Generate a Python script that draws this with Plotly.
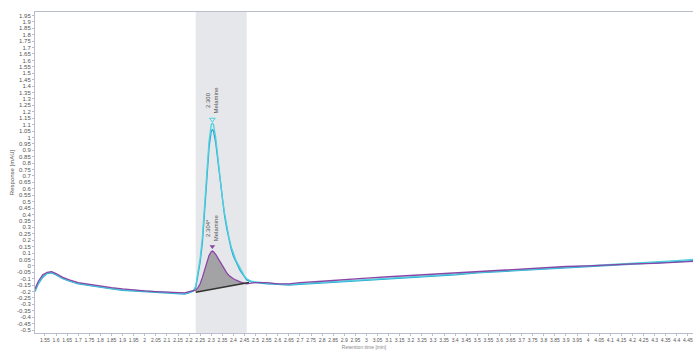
import plotly.graph_objects as go

# ---------------- data ----------------
x_base_left = [1.505, 1.52, 1.54, 1.56, 1.58, 1.60, 1.63, 1.66, 1.70, 1.75, 1.80, 1.85,
               1.90, 1.95, 2.00, 2.05, 2.10, 2.15, 2.18, 2.20, 2.22]
purple_left = [-0.18, -0.12, -0.07, -0.05, -0.045, -0.06, -0.09, -0.11, -0.13, -0.145, -0.16, -0.17,
               -0.18, -0.19, -0.195, -0.20, -0.205, -0.205, -0.21, -0.20, -0.195]
cyan_a_left = [-0.19, -0.13, -0.08, -0.055, -0.05, -0.065, -0.095, -0.115, -0.135, -0.15, -0.16, -0.175,
               -0.185, -0.19, -0.20, -0.205, -0.21, -0.21, -0.215, -0.205, -0.19]
cyan_b_left = [-0.20, -0.14, -0.09, -0.06, -0.055, -0.07, -0.10, -0.12, -0.14, -0.155, -0.165, -0.18,
               -0.19, -0.195, -0.205, -0.21, -0.215, -0.215, -0.22, -0.21, -0.195]

x_peak = [2.23, 2.24, 2.25, 2.26, 2.27, 2.28, 2.29, 2.30, 2.305, 2.31, 2.32, 2.33, 2.34, 2.35,
          2.36, 2.37, 2.38, 2.39, 2.40, 2.41, 2.42, 2.43, 2.44, 2.45, 2.46, 2.48]
purple_peak = [-0.19, -0.17, -0.14, -0.09, -0.03, 0.03, 0.08, 0.11, 0.115, 0.11, 0.09, 0.06, 0.03, 0.0,
               -0.03, -0.055, -0.075, -0.09, -0.10, -0.11, -0.12, -0.125, -0.13, -0.135, -0.14, -0.135]
cyan_a_peak = [-0.16, -0.06, 0.06, 0.22, 0.44, 0.72, 0.97, 1.10, 1.11, 1.10, 1.00, 0.84, 0.67, 0.53,
               0.41, 0.31, 0.22, 0.15, 0.09, 0.05, 0.015, -0.02, -0.05, -0.08, -0.10, -0.12]
cyan_b_peak = [-0.17, -0.08, 0.03, 0.18, 0.40, 0.67, 0.92, 1.05, 1.06, 1.05, 0.96, 0.81, 0.64, 0.50,
               0.39, 0.29, 0.20, 0.13, 0.075, 0.035, 0.0, -0.035, -0.06, -0.09, -0.11, -0.125]

x_base_right = [2.50, 2.55, 2.60, 2.65, 2.70, 2.80, 2.90, 3.00, 3.10, 3.20, 3.30, 3.40, 3.50,
                3.60, 3.70, 3.80, 3.90, 4.00, 4.10, 4.20, 4.30, 4.40, 4.475]
purple_right = [-0.13, -0.13, -0.14, -0.14, -0.13, -0.12, -0.105, -0.095, -0.085, -0.075, -0.065, -0.055, -0.04,
                -0.03, -0.02, -0.01, -0.005, 0.0, 0.01, 0.015, 0.02, 0.03, 0.035]
cyan_a_right = [-0.125, -0.135, -0.14, -0.145, -0.14, -0.13, -0.115, -0.105, -0.095, -0.085, -0.075, -0.065, -0.05,
                -0.04, -0.03, -0.02, -0.01, -0.005, 0.005, 0.015, 0.025, 0.04, 0.05]
cyan_b_right = [-0.13, -0.14, -0.145, -0.15, -0.145, -0.135, -0.12, -0.11, -0.10, -0.09, -0.08, -0.07, -0.055,
                -0.045, -0.035, -0.025, -0.015, -0.01, 0.0, 0.01, 0.02, 0.03, 0.04]

shade_range = [2.23, 2.46]
baseline_x = [2.23, 2.47]
baseline_y = [-0.205, -0.13]

peak_labels = ["2.300<br>Melamine", "2.304*<br>Melamine"]
peak_x = [2.305, 2.305]
peak_y = [1.11, 0.115]

y_ticks = [round(-0.5 + 0.05 * i, 2) for i in range(50)]
x_ticks = [round(1.55 + 0.05 * i, 2) for i in range(59)]

def fmt(v):
    s = f"{v:.2f}".rstrip("0").rstrip(".")
    return "0" if s in ("-0", "") else s

# ---------------- figure ----------------
x_all = x_base_left + x_peak + x_base_right
purple = purple_left + purple_peak + purple_right
cyan_a = cyan_a_left + cyan_a_peak + cyan_a_right
cyan_b = cyan_b_left + cyan_b_peak + cyan_b_right

fig = go.Figure()

seg_x = [x for x in x_peak if baseline_x[0] <= x <= baseline_x[1]]
seg_y = [y for x, y in zip(x_peak, purple_peak) if baseline_x[0] <= x <= baseline_x[1]]
poly_x = [baseline_x[0], baseline_x[1]] + seg_x[::-1]
poly_y = [baseline_y[0], baseline_y[1]] + seg_y[::-1]
fig.add_trace(go.Scatter(x=poly_x, y=poly_y, fill="toself", fillcolor="#a3a3a5",
                         line=dict(width=0), mode="lines", hoverinfo="skip", showlegend=False))

fig.add_trace(go.Scatter(x=x_all, y=cyan_b, mode="lines", line=dict(color="#2ba8d2", width=1.3), showlegend=False))
fig.add_trace(go.Scatter(x=x_all, y=cyan_a, mode="lines", line=dict(color="#4fd0de", width=1.3), showlegend=False))
fig.add_trace(go.Scatter(x=x_all, y=purple, mode="lines", line=dict(color="#8a46a6", width=1.3), showlegend=False))

fig.add_trace(go.Scatter(x=baseline_x, y=baseline_y, mode="lines", line=dict(color="#333333", width=1.6),
                         showlegend=False))

fig.add_trace(go.Scatter(x=[peak_x[0]], y=[peak_y[0] + 0.03], mode="markers",
                         marker=dict(symbol="triangle-down-open", size=5, color="#4fd0de", line=dict(width=1)),
                         showlegend=False))
fig.add_trace(go.Scatter(x=[peak_x[1]], y=[peak_y[1] + 0.035], mode="markers",
                         marker=dict(symbol="triangle-down", size=5, color="#8a46a6"),
                         showlegend=False))

for lab, px, py in zip(peak_labels, peak_x, peak_y):
    fig.add_annotation(x=px, y=py + 0.06, text=lab, textangle=-90, showarrow=False,
                       xanchor="center", yanchor="bottom",
                       font=dict(size=6, color="#555555", family="Liberation Sans"))

fig.add_vrect(x0=shade_range[0], x1=shade_range[1], fillcolor="#e6e7ea", line_width=0, layer="below")

fig.update_layout(
    width=693, height=350,
    margin=dict(l=35, r=0, t=12, b=13),
    paper_bgcolor="white", plot_bgcolor="white",
    font=dict(family="Liberation Sans", size=6, color="#555555"),
    xaxis=dict(range=[1.505, 4.473], tickvals=x_ticks, ticktext=[fmt(v) for v in x_ticks],
               tickangle=0, ticklabeloverflow="allow",
               showgrid=False, zeroline=False, showline=True, linecolor="#b8bccc", linewidth=1,
               mirror=True, ticks="outside", ticklen=2, tickcolor="#b8bccc",
               tickfont=dict(size=5, color="#555555"),
               title=dict(text="Retention time [min]", font=dict(size=5, color="#888888"), standoff=3)),
    yaxis=dict(range=[-0.523, 1.977], tickvals=y_ticks, ticktext=[fmt(v) for v in y_ticks],
               showgrid=False, zeroline=False, showline=True, linecolor="#b8bccc", linewidth=1,
               ticks="outside", ticklen=2, tickcolor="#b8bccc",
               tickfont=dict(size=6, color="#555555"),
               title=dict(text="Response [mAU]", font=dict(size=6, color="#555555"), standoff=2)),
)

fig.write_html("out.html")
